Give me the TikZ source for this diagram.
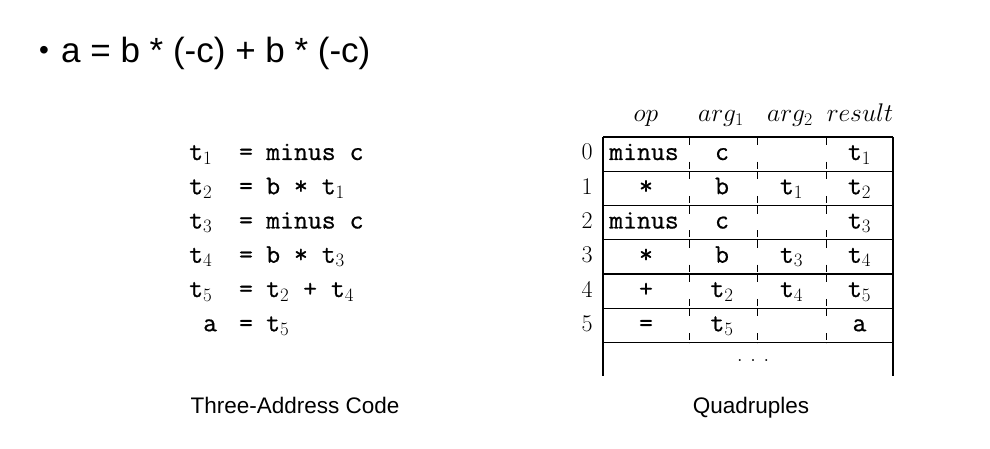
\RequirePackage{fix-cm}
\documentclass[tikz,border=0pt]{standalone}
\usepackage{fontspec}
\usepackage{tikz}
\usetikzlibrary{calc}
\newfontfamily\slidefont{Liberation Sans}
\setmonofont{Latin Modern Mono}[FakeBold=0.7]
\newcommand\ttcell{\fontsize{27}{32}\selectfont\ttfamily}
\newcommand\rmcell{\fontsize{24}{29}\selectfont}
\tikzset{
	code/.style={inner sep=0pt, font=\ttcell},
	idx/.style={inner sep=0pt, anchor=base, font=\rmcell},
	head/.style={inner sep=0pt, anchor=base, font=\fontsize{25.5}{30}\selectfont},
	rule/.style={line width=1.3pt},
	coldash/.style={line width=1pt, dash pattern=on 8pt off 16.75pt on 7pt off 2.5pt},
}

\begin{document}
\begin{tikzpicture}[x=1pt, y=-1pt]
			%%%%% START %%%%%
			\useasboundingbox (0, 0) rectangle (990, 449);
			
			\node[inner sep=0pt, font=\fontsize{28}{34}\slidefont] (bullet) at (44, 53) {\textbullet};
			\node[inner sep=0pt, anchor=base west, font=\fontsize{35}{40}\slidefont] (title) at (61, 63) {a = b * (-c) + b * (-c)};
			
			% three-address code
			\node[code, anchor=base west] (l0) at (189, 160) {t$_1$};
			\node[code, anchor=base] (e0) at (246, 160) {=};
			\node[code, anchor=base west] (r0) at (266, 160) {minus c};
			
			\node[code, anchor=base west] (l1) at (189, 194.25) {t$_2$};
			\node[code, anchor=base] (e1) at (246, 194.25) {=};
			\node[code, anchor=base west] (r1) at (266, 194.25) {b * t$_1$};
			
			\node[code, anchor=base west] (l2) at (189, 228.5) {t$_3$};
			\node[code, anchor=base] (e2) at (246, 228.5) {=};
			\node[code, anchor=base west] (r2) at (266, 228.5) {minus c};
			
			\node[code, anchor=base west] (l3) at (189, 262.75) {t$_4$};
			\node[code, anchor=base] (e3) at (246, 262.75) {=};
			\node[code, anchor=base west] (r3) at (266, 262.75) {b * t$_3$};
			
			\node[code, anchor=base west] (l4) at (189, 297) {t$_5$};
			\node[code, anchor=base] (e4) at (246, 297) {=};
			\node[code, anchor=base west] (r4) at (266, 297) {t$_2$ + t$_4$};
			
			\node[code, anchor=base west] (l5) at (203, 331.25) {a};
			\node[code, anchor=base] (e5) at (246, 331.25) {=};
			\node[code, anchor=base west] (r5) at (266, 331.25) {t$_5$};
			
			\node[inner sep=0pt, anchor=base, font=\fontsize{22.5}{27}\slidefont] (tac) at (295, 413) {Three-Address Code};
			
			% quadruples
			\node[head] (hop) at (646, 122) {$op$};
			\node[head] (harg1) at (721, 122) {$arg_1$};
			\node[head] (harg2) at (790, 122) {$arg_2$};
			\node[head] (hres) at (860, 122) {$result$};
			
			\draw[rule] (603, 137) -- (603, 376);
			\draw[rule] (893, 137) -- (893, 376);
			\draw[rule] (603, 137) -- (893, 137);
			\draw[rule] (603, 171.25) -- (893, 171.25);
			\draw[rule] (603, 205.5) -- (893, 205.5);
			\draw[rule] (603, 239.75) -- (893, 239.75);
			\draw[rule] (603, 274) -- (893, 274);
			\draw[rule] (603, 308.25) -- (893, 308.25);
			\draw[rule] (603, 342.5) -- (893, 342.5);
			
			\draw[coldash] (689, 137) -- (689, 342.5);
			\draw[coldash] (757, 137) -- (757, 342.5);
			\draw[coldash] (826, 137) -- (826, 342.5);
			
			\node[idx] (i0) at (587, 160) {0};
			\node[code, anchor=base] (op0) at (644, 160) {minus};
			\node[code, anchor=base] (a10) at (722, 160) {c};
			\node[code, anchor=base] (res0) at (859.5, 160) {t$_1$};
			
			\node[idx] (i1) at (587, 194.25) {1};
			\node[code, anchor=base] (op1) at (646, 194.25) {*};
			\node[code, anchor=base] (a11) at (722, 194.25) {b};
			\node[code, anchor=base] (a21) at (791.5, 194.25) {t$_1$};
			\node[code, anchor=base] (res1) at (859.5, 194.25) {t$_2$};
			
			\node[idx] (i2) at (587, 228.5) {2};
			\node[code, anchor=base] (op2) at (644, 228.5) {minus};
			\node[code, anchor=base] (a12) at (722, 228.5) {c};
			\node[code, anchor=base] (res2) at (859.5, 228.5) {t$_3$};
			
			\node[idx] (i3) at (587, 262.75) {3};
			\node[code, anchor=base] (op3) at (646, 262.75) {*};
			\node[code, anchor=base] (a13) at (722, 262.75) {b};
			\node[code, anchor=base] (a23) at (791.5, 262.75) {t$_3$};
			\node[code, anchor=base] (res3) at (859.5, 262.75) {t$_4$};
			
			\node[idx] (i4) at (587, 297) {4};
			\node[code, anchor=base] (op4) at (646, 297) {+};
			\node[code, anchor=base] (a14) at (722, 297) {t$_2$};
			\node[code, anchor=base] (a24) at (791.5, 297) {t$_4$};
			\node[code, anchor=base] (res4) at (859.5, 297) {t$_5$};
			
			\node[idx] (i5) at (587, 331.25) {5};
			\node[code, anchor=base] (op5) at (646, 331.25) {=};
			\node[code, anchor=base] (a15) at (722, 331.25) {t$_5$};
			\node[code, anchor=base] (res5) at (859.5, 331.25) {a};
			
			\node[idx] (dots) at (753, 361) {.\ .\ .};
			
			\node[inner sep=0pt, anchor=base, font=\fontsize{22.5}{27}\slidefont] (quad) at (751, 413) {Quadruples};
			%%%%% END %%%%%
\end{tikzpicture}
\end{document}
